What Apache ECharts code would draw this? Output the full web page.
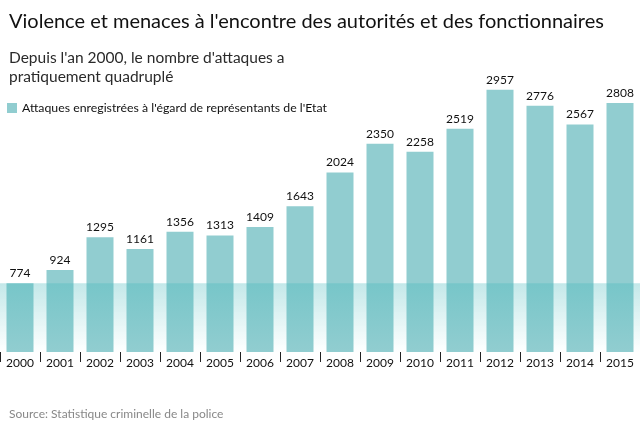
<!DOCTYPE html>
<html><head><meta charset="utf-8">
<script src="https://cdn.jsdelivr.net/npm/echarts@6/dist/echarts.min.js"></script>
<style>html,body{margin:0;padding:0;background:#fff}#c{width:640px;height:426px}</style>
</head><body><div id="c"></div>
<script>
const years = ['2000','2001','2002','2003','2004','2005','2006','2007','2008','2009','2010','2011','2012','2013','2014','2015'];
const attacks = [774,924,1295,1161,1356,1313,1409,1643,2024,2350,2258,2519,2957,2776,2567,2808];
const seriesName = "Attaques enregistrées à l'égard de représentants de l'Etat";
const bandTop = attacks[0];

const FONT = 'Lato';
const chart = echarts.init(document.getElementById('c'), null, {renderer: 'canvas'});
chart.setOption({
  animation: false,
  textStyle: {fontFamily: FONT},
  title: [
    {text: "Violence et menaces à l'encontre des autorités et des fonctionnaires", left: 4, top: 7,
     textStyle: {fontSize: 20, fontWeight: 'normal', color: '#111', fontFamily: FONT}},
    {text: "Depuis l'an 2000, le nombre d'attaques a\npratiquement quadruplé", left: 4, top: 43,
     textStyle: {fontSize: 15.5, fontWeight: 'normal', color: '#2a2a2a', lineHeight: 19, fontFamily: FONT}},
    {text: "Source: Statistique criminelle de la police", left: 4, top: 403,
     textStyle: {fontSize: 12, fontWeight: 'normal', color: '#888', fontFamily: FONT}}
  ],
  legend: {
    data: [seriesName], left: 2, top: 97, itemWidth: 10, itemHeight: 10, itemGap: 5,
    icon: 'rect', textStyle: {fontSize: 12.3, color: '#111', fontFamily: FONT}
  },
  grid: {left: -2, width: 642, top: 86, bottom: 74, containLabel: false},
  xAxis: {
    type: 'category', data: years, offset: 5,
    axisLine: {show: false},
    axisTick: {show: true, length: 10, lineStyle: {color: '#222', width: 1}},
    axisLabel: {margin: 0, fontSize: 12, color: '#111', fontFamily: FONT, verticalAlign: 'top', padding: [0,0,0,0]}
  },
  yAxis: {type: 'value', min: 0, max: 3000, show: false, splitLine: {show: false}},
  series: [
    {
      name: seriesName, type: 'bar', data: attacks, barWidth: 27, z: 2,
      itemStyle: {color: '#91cdd0'},
      label: {show: true, position: 'top', distance: 4, fontSize: 12, color: '#111', fontFamily: FONT}
    },
    {
      name: 'band', type: 'line', data: [], z: 5, silent: true,
      markArea: {
        silent: true, z: 10,
        itemStyle: {
          color: new echarts.graphic.LinearGradient(0, 0, 0, 1, [
            {offset: 0, color: 'rgba(62,182,185,0.31)'},
            {offset: 1, color: 'rgba(62,182,185,0)'}
          ])
        },
        data: [[{yAxis: 0}, {yAxis: bandTop}]]
      }
    }
  ]
});
</script></body></html>
